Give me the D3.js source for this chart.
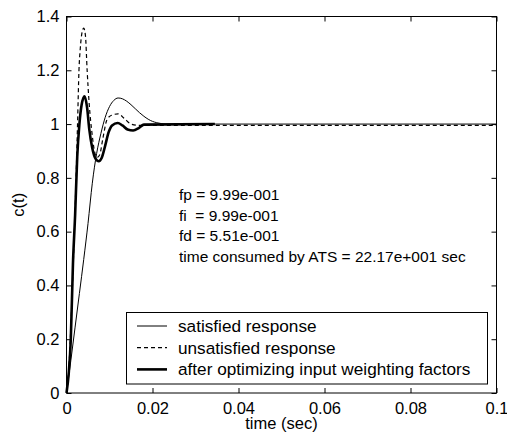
<!DOCTYPE html>
<html>
<head>
<meta charset="utf-8">
<script src="https://cdn.jsdelivr.net/npm/d3@7"></script>
<style>
  html, body { margin: 0; padding: 0; background: #fff; }
  svg { display: block; font-family: Arial, "Liberation Sans", sans-serif; }
</style>
</head>
<body>
<svg id="chart"></svg>
<script>
// satisfied response (thin solid)
const tSat = [0, 0.001, 0.002, 0.003, 0.004, 0.005, 0.006, 0.007, 0.008, 0.009, 0.010, 0.011, 0.012,
  0.013, 0.014, 0.015, 0.016, 0.017, 0.018, 0.019, 0.020, 0.021, 0.022, 0.023, 0.1];
const cSat = [0, 0.12, 0.245, 0.37, 0.496, 0.63, 0.78, 0.89, 0.965, 1.025, 1.065, 1.088, 1.097,
  1.094, 1.085, 1.072, 1.057, 1.042, 1.029, 1.018, 1.01, 1.005, 1.002, 1.0, 1.0];

// unsatisfied response (dashed)
const tUns = [0, 0.0005, 0.001, 0.0015, 0.0019, 0.0023, 0.0026, 0.0029, 0.0032, 0.0036, 0.004, 0.0044,
  0.0048, 0.0053, 0.0059, 0.0065, 0.0071, 0.0077, 0.0085, 0.0094, 0.0105, 0.012, 0.0135, 0.015, 0.017, 0.1];
const cUns = [0, 0.08, 0.24, 0.45, 0.63, 0.84, 1.02, 1.2, 1.28, 1.34, 1.357, 1.33,
  1.2, 1.07, 0.97, 0.9, 0.876, 0.885, 0.95, 1.016, 1.033, 1.038, 1.02, 1.0, 0.995, 0.995];

// after optimizing input weighting factors (thick)
const tOpt = [0, 0.0005, 0.001, 0.0015, 0.002, 0.0025, 0.003, 0.0035, 0.0042, 0.0048, 0.0053, 0.006,
  0.0068, 0.0075, 0.0082, 0.009, 0.0098, 0.0106, 0.0119, 0.013, 0.0142, 0.0155, 0.0168, 0.018, 0.0345];
const cOpt = [0, 0.07, 0.2, 0.48, 0.66, 0.88, 1.0, 1.07, 1.103, 1.06, 0.98, 0.91,
  0.87, 0.862, 0.875, 0.92, 0.97, 0.995, 1.004, 0.995, 0.98, 0.976, 0.985, 0.998, 1.0];

const xTicks = [0, 0.02, 0.04, 0.06, 0.08, 0.1];
const yTicks = [0, 0.2, 0.4, 0.6, 0.8, 1, 1.2, 1.4];
const legendLabels = ["satisfied response", "unsatisfied response", "after optimizing input weighting factors"];
const notes = ["fp = 9.99e-001", "fi  = 9.99e-001", "fd = 5.51e-001", "time consumed by ATS = 22.17e+001 sec"];

const width = 507, height = 443;
const marginLeft = 66.5, marginRight = 10.5, marginTop = 16.5, marginBottom = 50;

const svg = d3.select("#chart")
  .attr("width", width)
  .attr("height", height)
  .attr("viewBox", [0, 0, width, height]);

const x = d3.scaleLinear([0, 0.1], [marginLeft, width - marginRight]);
const y = d3.scaleLinear([0, 1.4], [height - marginBottom, marginTop]);

const fmt = d => d === 0 ? "0" : (d === 1 ? "1" : String(+d.toFixed(2)));

// axes, ticks pointing inward on all four sides
svg.append("g")
  .attr("transform", `translate(0,${y(0)})`)
  .call(d3.axisBottom(x).tickValues(xTicks).tickFormat(fmt).tickSizeInner(-5).tickSizeOuter(0).tickPadding(9))
  .call(g => g.select(".domain").remove())
  .call(g => g.selectAll("text").attr("font-size", 16.5).attr("font-family", null).attr("fill", "#000"));

svg.append("g")
  .attr("transform", `translate(0,${y(1.4)})`)
  .call(d3.axisTop(x).tickValues(xTicks).tickFormat("").tickSizeInner(-5).tickSizeOuter(0))
  .call(g => g.select(".domain").remove());

svg.append("g")
  .attr("transform", `translate(${x(0)},0)`)
  .call(d3.axisLeft(y).tickValues(yTicks).tickFormat(fmt).tickSizeInner(-5).tickSizeOuter(0).tickPadding(7))
  .call(g => g.select(".domain").remove())
  .call(g => g.selectAll("text").attr("font-size", 16.5).attr("font-family", null).attr("fill", "#000"));

svg.append("g")
  .attr("transform", `translate(${x(0.1)},0)`)
  .call(d3.axisRight(y).tickValues(yTicks).tickFormat("").tickSizeInner(-5).tickSizeOuter(0))
  .call(g => g.select(".domain").remove());

svg.append("rect")
  .attr("x", x(0)).attr("y", y(1.4))
  .attr("width", x(0.1) - x(0)).attr("height", y(0) - y(1.4))
  .attr("fill", "none").attr("stroke", "#000");

// curves
const line = d3.line().x(d => x(d[0])).y(d => y(d[1])).curve(d3.curveMonotoneX);
const zip = (T, C) => T.map((t, i) => [t, C[i]]);

svg.append("path").datum(zip(tSat, cSat))
  .attr("d", line).attr("fill", "none").attr("stroke", "#000").attr("stroke-width", 1);
svg.append("path").datum(zip(tUns, cUns))
  .attr("d", line).attr("fill", "none").attr("stroke", "#000").attr("stroke-width", 1.2)
  .attr("stroke-dasharray", "4,3");
svg.append("path").datum(zip(tOpt, cOpt))
  .attr("d", line).attr("fill", "none").attr("stroke", "#000").attr("stroke-width", 2.6);

// annotation text
svg.append("g")
  .attr("font-size", 15.5)
  .selectAll("text")
  .data(notes)
  .join("text")
  .attr("x", 179)
  .attr("y", (d, i) => 200 + i * 20.7)
  .attr("xml:space", "preserve")
  .text(d => d);

// legend
const legend = svg.append("g");
legend.append("rect")
  .attr("x", 126.5).attr("y", 312.5).attr("width", 361).attr("height", 71.5)
  .attr("fill", "#fff").attr("stroke", "#000");
const styles = [
  {w: 1, dash: null},
  {w: 1.2, dash: "4,3"},
  {w: 2.6, dash: null}
];
legendLabels.forEach((label, i) => {
  const ly = 326 + i * 21.7;
  legend.append("line")
    .attr("x1", 137).attr("x2", 167).attr("y1", ly).attr("y2", ly)
    .attr("stroke", "#000").attr("stroke-width", styles[i].w)
    .attr("stroke-dasharray", styles[i].dash);
  legend.append("text")
    .attr("x", 178).attr("y", ly + 5.8)
    .attr("font-size", 17.2)
    .text(label);
});

// axis labels
svg.append("text")
  .attr("x", x(0.05)).attr("y", 429)
  .attr("text-anchor", "middle").attr("font-size", 16.5)
  .text("time (sec)");
svg.append("text")
  .attr("transform", `translate(24,${y(0.7)}) rotate(-90)`)
  .attr("text-anchor", "middle").attr("font-size", 16.5)
  .text("c(t)");
</script>
</body>
</html>
